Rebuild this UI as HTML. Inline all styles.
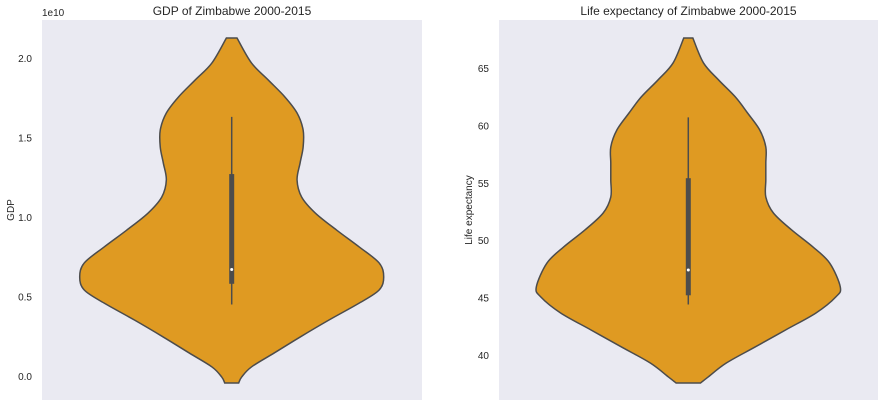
<!DOCTYPE html>
<html><head><meta charset="utf-8"><style>
body{margin:0;background:#fff;}
svg text{font-family:"Liberation Sans",sans-serif;fill:#262626;}
</style></head><body>
<svg id="c" width="885" height="408"></svg>
<script>
const gdpValues=[2.126,1.969,1.862,1.755,1.654,1.547,1.440,1.340,1.233,1.126,1.025,0.918,0.811,0.711,0.623,0.541,0.459,0.352,0.245,0.145,0.057,-0.006,-0.044];
const gdpDensity=[0.035,0.13,0.24,0.35,0.43,0.47,0.47,0.45,0.43,0.46,0.55,0.69,0.84,0.97,1.0,0.97,0.84,0.64,0.45,0.28,0.13,0.066,0.046];
const gdpBox=[0.45,0.58,0.67,1.27,1.63];
const gdpTicks=[0.0,0.5,1.0,1.5,2.0];
const lifeValues=[67.61,65.44,63.95,62.47,61.08,59.60,58.12,56.72,55.24,53.76,52.37,50.89,49.41,48.01,45.92,45.05,43.66,42.18,40.70,39.30,38.08,37.56];
const lifeDensity=[0.03,0.10,0.20,0.31,0.39,0.47,0.51,0.51,0.51,0.51,0.56,0.68,0.82,0.93,1.0,0.97,0.84,0.64,0.44,0.25,0.13,0.08];
const lifeBox=[44.4,45.2,47.4,55.4,60.7];
const lifeTicks=[40,45,50,55,60,65];
const NS="http://www.w3.org/2000/svg";
const svg=document.getElementById('c');
function mk(tag,attrs,parent){const e=document.createElementNS(NS,tag);for(const k in attrs)e.setAttribute(k,attrs[k]);(parent||svg).appendChild(e);return e;}
function segs(pts){let d='';for(let i=0;i<pts.length-1;i++){const p0=pts[i-1]||pts[i],p1=pts[i],p2=pts[i+1],p3=pts[i+2]||p2;const c1=[p1[0]+(p2[0]-p0[0])/6,p1[1]+(p2[1]-p0[1])/6],c2=[p2[0]-(p3[0]-p1[0])/6,p2[1]-(p3[1]-p1[1])/6];d+=`C${c1[0]},${c1[1]} ${c2[0]},${c2[1]} ${p2[0]},${p2[1]}`;}return d;}
function panel(o){
  const g=mk('g',{});
  const bg=mk('rect',{x:o.x0,y:20,width:o.x1-o.x0,height:380,fill:'#eaeaf2'},g);
  
  const y=v=>o.yA+(v-o.vA)*(o.yB-o.yA)/(o.vB-o.vA);
  const cx=o.cx, W=152;
  o.ticks.forEach(t=>{const tx=mk('text',{x:o.x0-10,y:y(t)+4,'text-anchor':'end','font-size':10},g);tx.textContent=o.fmt(t);
    });
  const right=o.vals.map((v,i)=>[cx+W*o.dens[i],y(v)]);
  const left=o.vals.map((v,i)=>[cx-W*o.dens[i],y(v)]).reverse();
  const d='M'+right[0][0]+','+right[0][1]+segs(right)+'L'+left[0][0]+','+left[0][1]+segs(left)+'Z';
  const vp=mk('path',{d:d,fill:'#df9a22',stroke:'#4c4c4c','stroke-width':1.5},g);
  
  const b=o.box;
  const wh=mk('line',{x1:cx,x2:cx,y1:y(b[0]),y2:y(b[4]),stroke:'#4c4c4c','stroke-width':1.5},g);
  
  const bx=mk('rect',{x:cx-2.5,y:y(b[3]),width:5,height:y(b[1])-y(b[3]),fill:'#4c4c4c'},g);
  
  const md=mk('circle',{cx:cx,cy:y(b[2]),r:1.5,fill:'#fff'},g);
  
  const tt=mk('text',{x:(o.x0+o.x1)/2,y:15,'text-anchor':'middle','font-size':12},g);tt.textContent=o.title;
  
  const yl=mk('text',{x:0,y:0,'text-anchor':'middle','font-size':10,transform:`translate(${o.ylx},210) rotate(-90)`},g);yl.textContent=o.ylabel;
  
}
panel({name:'gdp-panel',x0:42,x1:422,cx:231.7,yA:376,vA:0,yB:58,vB:2,vals:gdpValues,dens:gdpDensity,box:gdpBox,ticks:gdpTicks,fmt:t=>t.toFixed(1),title:'GDP of Zimbabwe 2000-2015',ylabel:'GDP',ylx:14});
panel({name:'life-panel',x0:499,x1:878,cx:688.3,yA:355,vA:40,yB:68,vB:65,vals:lifeValues,dens:lifeDensity,box:lifeBox,ticks:lifeTicks,fmt:t=>String(t),title:'Life expectancy of Zimbabwe 2000-2015',ylabel:'Life expectancy',ylx:472});
const ex=mk('text',{x:42,y:16,'font-size':10});ex.textContent='1e10';

</script>
</body></html>
